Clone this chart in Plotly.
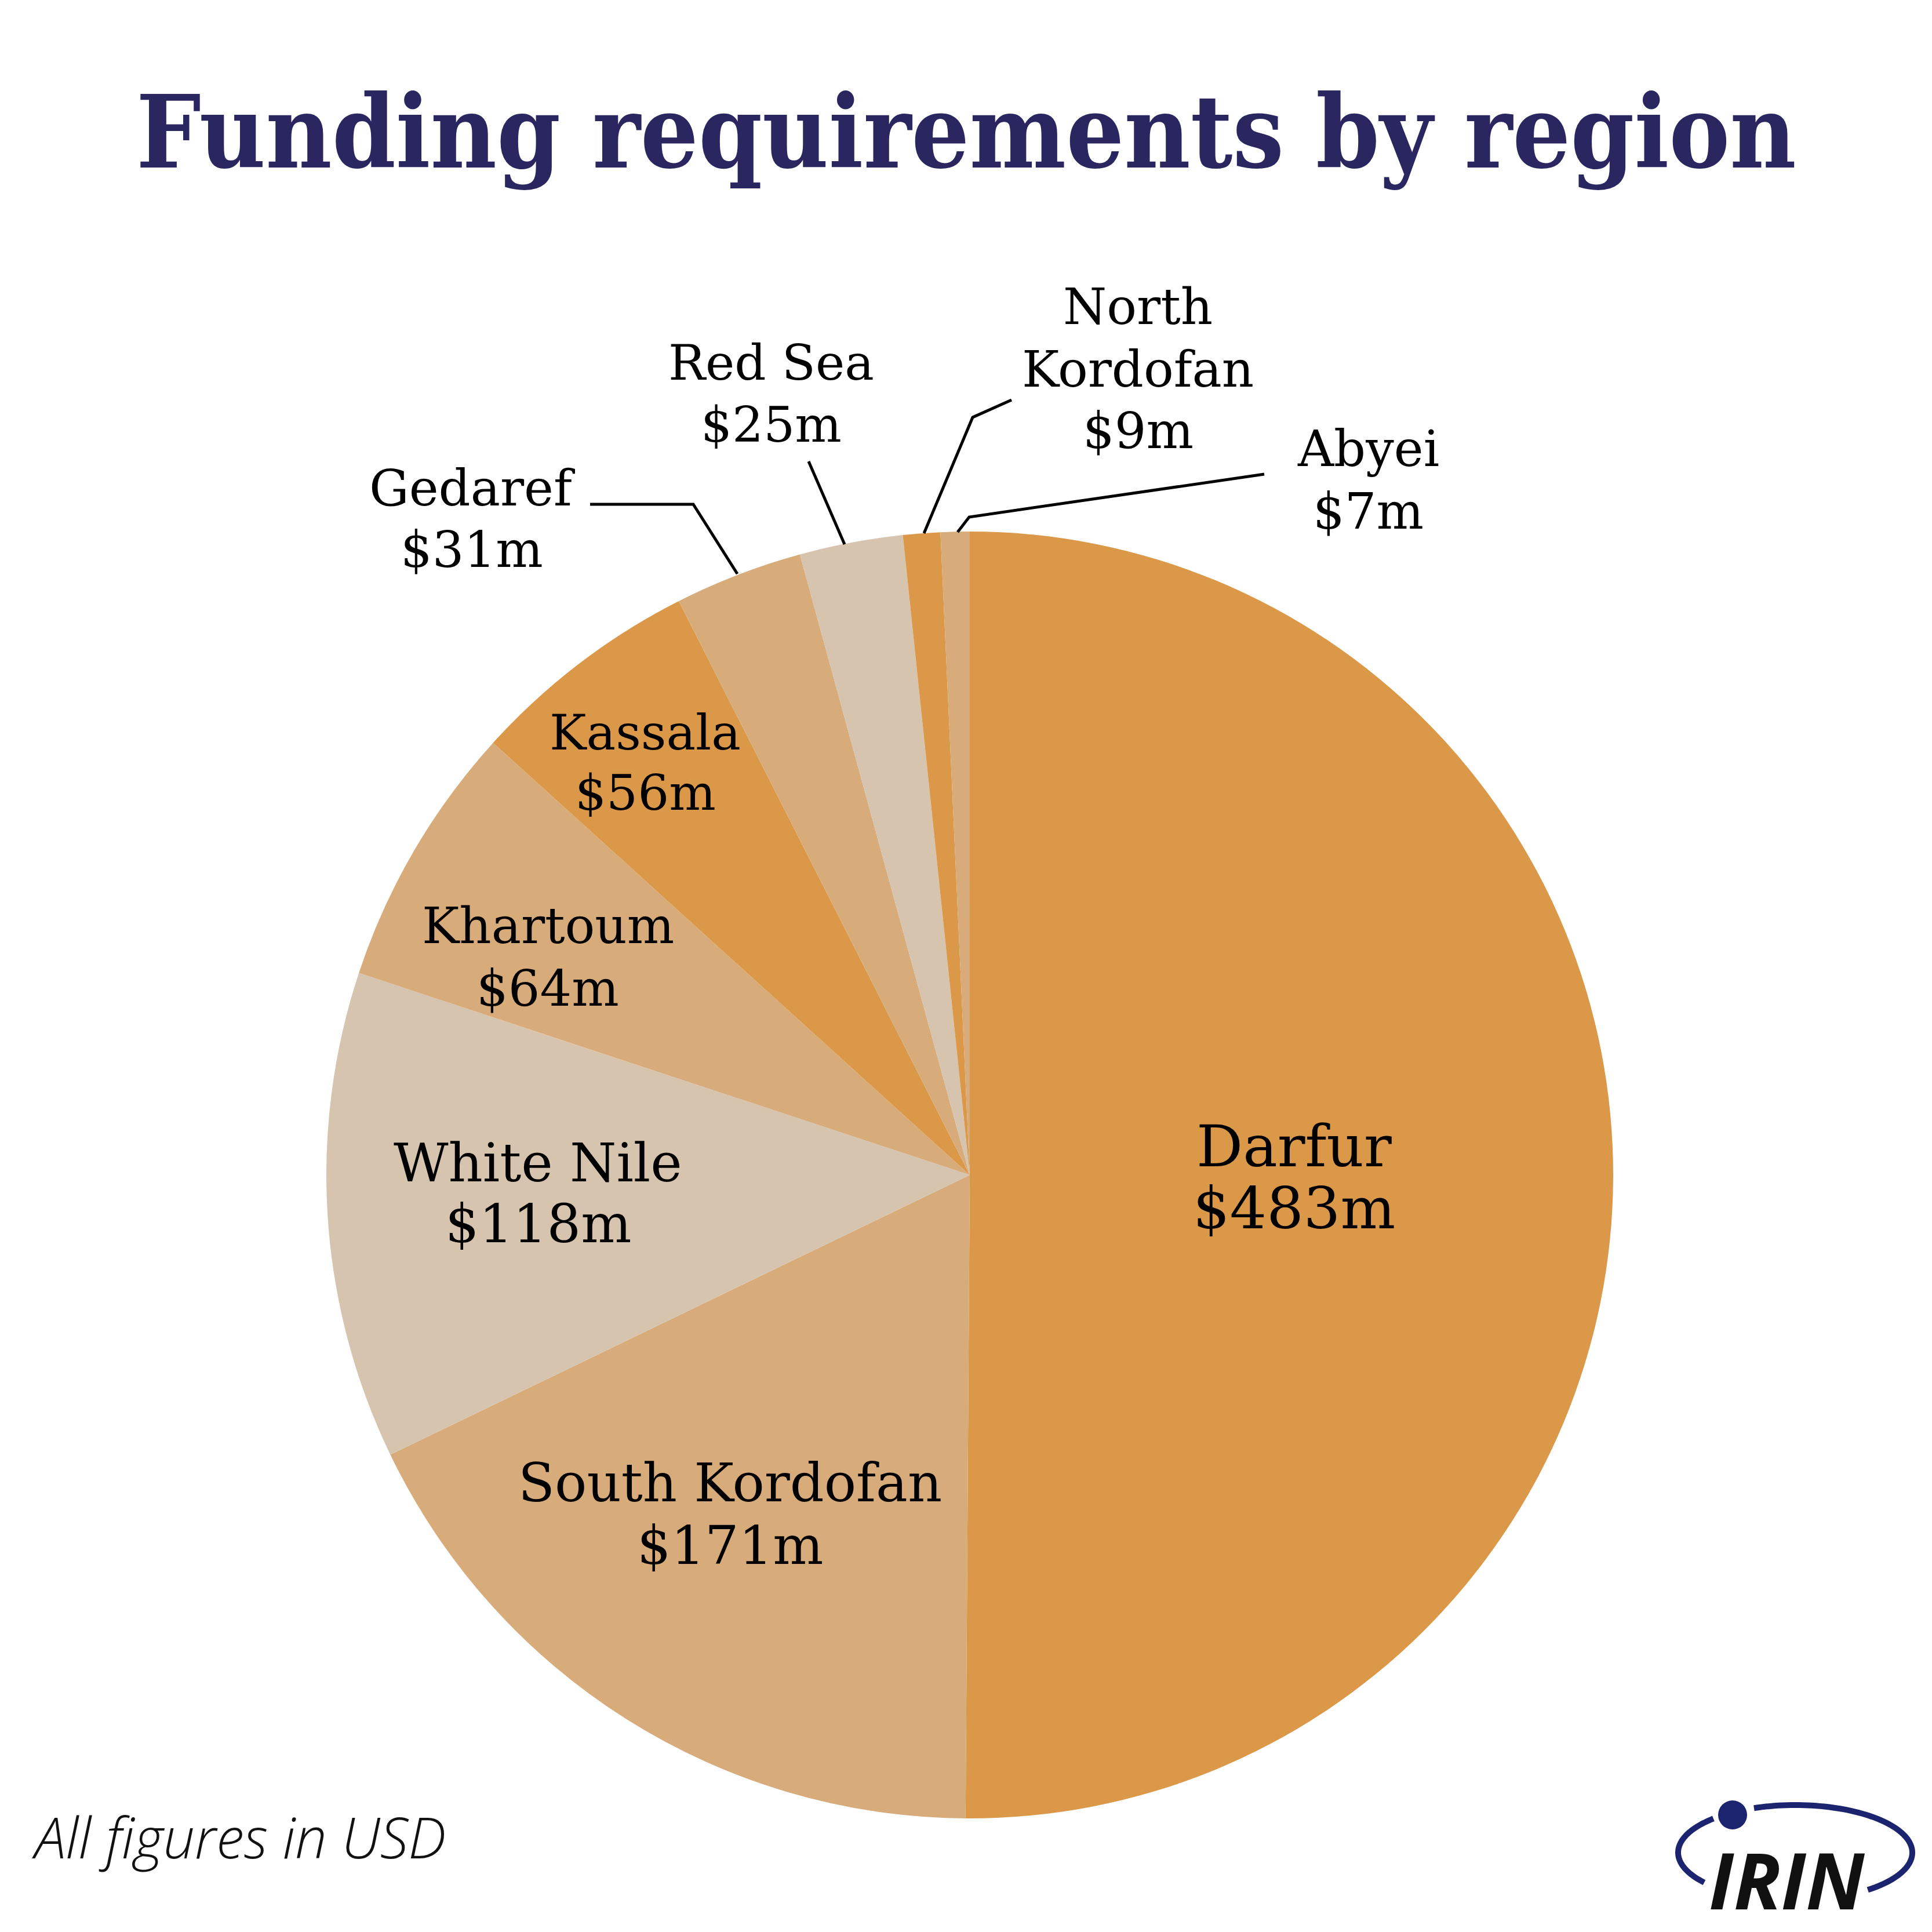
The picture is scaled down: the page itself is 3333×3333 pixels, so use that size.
import numpy as np
import plotly.graph_objects as go

# ---------------- data ----------------
regions = ["Darfur", "South Kordofan", "White Nile", "Khartoum", "Kassala",
           "Gedaref", "Red Sea", "North Kordofan", "Abyei"]
funding_musd = [483, 171, 118, 64, 56, 31, 25, 9, 7]
slice_colors = ["#DB9848", "#D7AB7A", "#D6C4AF", "#D7AB7A", "#DB9848",
                "#D7AB7A", "#D6C4AF", "#DB9848", "#D7AB7A"]
title_text = "Funding requirements by region"
footnote_text = "All figures in USD"

# ---------------- layout helpers ----------------
W = H = 3333
OFF = 8  # default page body margin
def px(x):
    return (x - OFF) / W
def py(y):
    return 1 - (y - OFF) / H

cx, cy, R = 1673, 2027, 1110

fig = go.Figure()
fig.add_trace(go.Pie(
    labels=regions, values=funding_musd, sort=False, direction="clockwise",
    rotation=0, marker=dict(colors=slice_colors, line=dict(width=0)),
    textinfo="none", hoverinfo="label+value", showlegend=False,
    domain=dict(x=[px(cx - R), px(cx + R)], y=[py(cy + R), py(cy - R)]),
))

# label placement (x centre, baselines per line, font size)
label_pos = {
    "Darfur": (2232, [2012, 2119], 100),
    "South Kordofan": (1259, [2590, 2698], 92),
    "White Nile": (928, [2038, 2143], 92),
    "Khartoum": (945, [1627, 1735], 86),
    "Kassala": (1113, [1293, 1397], 85),
    "Gedaref": (814, [872, 978], 86),
    "Red Sea": (1330, [655, 762], 85),
    "North Kordofan": (1963, [559, 667, 773], 86),
    "Abyei": (2360, [804, 912], 86),
}
name_lines = {"North Kordofan": ["North", "Kordofan"]}

annotations = []
serif = "DejaVu Serif"
for name, val in zip(regions, funding_musd):
    x, baselines, fs = label_pos[name]
    lines = name_lines.get(name, [name]) + ["$%dm" % val]
    for txt, bl in zip(lines, baselines):
        annotations.append(dict(
            text=txt, x=px(x), y=py(bl - 0.346 * fs), xref="paper", yref="paper",
            xanchor="center", yanchor="middle", showarrow=False,
            font=dict(family=serif, size=fs, color="#000000")))

# title
tfs = 175
annotations.append(dict(
    text="<b>%s</b>" % title_text, x=px(1667), y=py(288 - 0.346 * tfs),
    xref="paper", yref="paper", xanchor="center", yanchor="middle", showarrow=False,
    font=dict(family="DejaVu Serif Condensed, DejaVu Serif", size=tfs, color="#2A2760")))

# footnote
ffs = 97
annotations.append(dict(
    text=footnote_text, x=px(52), y=py(3205 - 0.38 * ffs),
    xref="paper", yref="paper", xanchor="left", yanchor="middle", showarrow=False,
    font=dict(family="Open Sans", size=ffs, color="#111111", weight=300, style="italic")))

# IRIN logo text
ifs = 134
annotations.append(dict(
    text="<b><i>IRIN</i></b>", x=px(3082), y=py(3294 - 0.388 * ifs),
    xref="paper", yref="paper", xanchor="center", yanchor="middle", showarrow=False,
    font=dict(family="Open Sans", size=ifs, color="#111111")))

shapes = []
# leader lines
leaders = [
    [(1018, 870), (1196, 870), (1272, 990)],
    [(1395, 796), (1457, 939)],
    [(1745, 690), (1678, 720), (1594, 920)],
    [(2181, 818), (1672, 892), (1652, 918)],
]
for pts in leaders:
    path = "M " + " L ".join("%f,%f" % (px(a), py(b)) for a, b in pts)
    shapes.append(dict(type="path", path=path, xref="paper", yref="paper",
                       line=dict(color="#000000", width=5)))

# IRIN ellipse arcs
ecx, ecy, ea, eb = 3097, 3196, 202, 82
navy = "#1C2470"
for t0, t1 in [(141, 225.7), (249.4, 411.7)]:
    t = np.radians(np.linspace(t0, t1, 80))
    xs = ecx + ea * np.cos(t)
    ys = ecy + eb * np.sin(t)
    path = "M " + " L ".join("%f,%f" % (px(a), py(b)) for a, b in zip(xs, ys))
    shapes.append(dict(type="path", path=path, xref="paper", yref="paper",
                       line=dict(color=navy, width=10)))
# dot
dr = 25
shapes.append(dict(type="circle", xref="paper", yref="paper",
                   x0=px(2989 - dr), x1=px(2989 + dr), y0=py(3131 + dr), y1=py(3131 - dr),
                   fillcolor=navy, line=dict(width=0)))

fig.update_layout(
    width=W, height=H, margin=dict(l=0, r=0, t=0, b=0),
    paper_bgcolor="white", plot_bgcolor="white",
    annotations=annotations, shapes=shapes,
)
fig.write_html("out.html")
